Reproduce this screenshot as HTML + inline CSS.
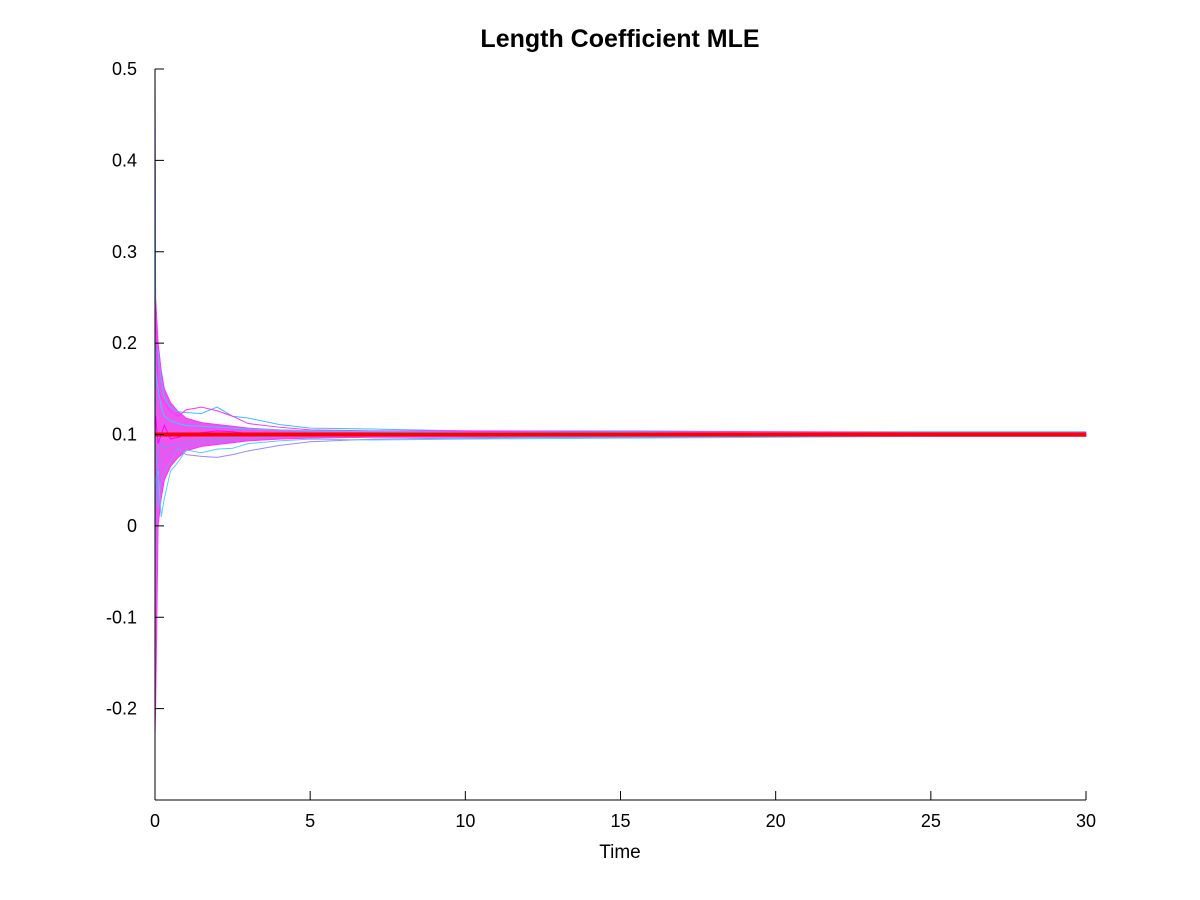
<!DOCTYPE html>
<html><head><meta charset="utf-8"><style>
body{margin:0;background:#fff;}
svg{display:block;font-family:"Liberation Sans",sans-serif;}
</style></head><body>
<svg id="chart" width="1200" height="900" viewBox="0 0 1200 900">
<rect width="1200" height="900" fill="#fff"/>
<text x="620" y="47" text-anchor="middle" font-size="25" font-weight="bold">Length Coefficient MLE</text>
<g id="plot"></g>
<g id="axes"></g>
<text x="620" y="858" text-anchor="middle" font-size="19">Time</text>
</svg>
<script>
const xTicks=[0,5,10,15,20,25,30];
const yTicks=[-0.2,-0.1,0,0.1,0.2,0.3,0.4,0.5];
const yTickLabels=["-0.2","-0.1","0","0.1","0.2","0.3","0.4","0.5"];
const times=[0,0.02,0.1,0.2,0.3,0.5,0.75,1,1.5,2,2.5,3,4,5,7,10,15,20,25,30];
const envUpper=[0.5,0.25,0.2,0.17,0.15,0.135,0.125,0.118,0.113,0.111,0.109,0.107,0.105,0.104,0.103,0.103,0.102,0.102,0.102,0.102];
const envLower=[-0.23,-0.2,0.0,0.03,0.05,0.065,0.075,0.082,0.087,0.089,0.091,0.093,0.095,0.096,0.097,0.097,0.098,0.098,0.098,0.098];
const series1=[0.5,0.2,0.19,0.16,0.14,0.13,0.125,0.124,0.123,0.13,0.12,0.118,0.111,0.107,0.106,0.104,0.104,0.103,0.103,0.103];
const series2=[0.3,0.1,0.02,0.05,0.06,0.07,0.085,0.078,0.076,0.075,0.078,0.082,0.088,0.092,0.095,0.096,0.097,0.098,0.099,0.099];
const series3=[-0.1,0.05,0.06,0.01,0.03,0.06,0.07,0.083,0.08,0.084,0.085,0.09,0.093,0.095,0.094,0.095,0.096,0.097,0.098,0.098];
const series4=[0.25,0.23,0.15,0.14,0.135,0.125,0.12,0.127,0.13,0.126,0.12,0.112,0.108,0.105,0.104,0.104,0.103,0.103,0.102,0.102];
const series5=[0.0,0.04,0.05,0.07,0.075,0.08,0.085,0.088,0.09,0.092,0.094,0.096,0.098,0.099,0.1,0.1,0.101,0.1,0.1,0.1];
const series6=[0.2,0.17,0.15,0.13,0.12,0.115,0.112,0.11,0.109,0.108,0.107,0.106,0.105,0.104,0.103,0.102,0.102,0.101,0.101,0.101];
const series7=[0.1,0.12,0.09,0.1,0.11,0.095,0.097,0.1,0.102,0.104,0.103,0.101,0.1,0.101,0.1,0.1,0.1,0.1,0.1,0.1];
const series8=[-0.05,0.03,0.08,0.09,0.085,0.088,0.09,0.092,0.094,0.095,0.097,0.099,0.1,0.1,0.099,0.098,0.097,0.098,0.098,0.098];
const seriesList=[series1,series2,series3,series4,series5,series6,series7,series8];
const seriesColors=["#44bbff","#9988ff","#55ccff","#ff33ff","#aa77ff","#33ccff","#ff00ff","#8888ff"];
const trueValue=0.1;

const X0=155,X1=1086,Y0=800,Y1=69,xMin=0,xMax=30,yMin=-0.3,yMax=0.5;
const xs=v=>X0+(v-xMin)/(xMax-xMin)*(X1-X0);
const ys=v=>Y0-(v-yMin)/(yMax-yMin)*(Y0-Y1);
const NS="http://www.w3.org/2000/svg";
const plot=document.getElementById('plot'),axes=document.getElementById('axes');
function mk(t,a,p){const e=document.createElementNS(NS,t);for(const k in a)e.setAttribute(k,a[k]);p.appendChild(e);return e;}

let d="M"+times.map((t,i)=>xs(t)+","+ys(envUpper[i])).join(" L");
for(let i=times.length-1;i>=0;i--)d+=" L"+xs(times[i])+","+ys(envLower[i]);
const env=mk('path',{d:d+"Z",fill:"#ee55ee",stroke:"#ff33ff","stroke-width":1},plot);



seriesList.forEach((s,j)=>{
  const p=mk('polyline',{points:times.map((t,i)=>xs(t)+","+ys(s[i])).join(" "),fill:"none",stroke:seriesColors[j],"stroke-width":1},plot);
  
  
});
const r=mk('line',{x1:xs(xMin),x2:xs(xMax),y1:ys(trueValue),y2:ys(trueValue),stroke:"#ff0000","stroke-width":4},plot);



const xa=mk('line',{x1:X0,x2:X1,y1:Y0,y2:Y0,stroke:"#000","stroke-width":1},axes);


const ya=mk('line',{x1:X0,x2:X0,y1:Y0,y2:Y1,stroke:"#000","stroke-width":1},axes);


xTicks.forEach(v=>{
  mk('line',{x1:xs(v),x2:xs(v),y1:Y0,y2:Y0-9,stroke:"#000"},axes);
  const t=mk('text',{x:xs(v),y:Y0+27,"text-anchor":"middle","font-size":18},axes);
  t.textContent=v;
  
  
});
yTicks.forEach((v,i)=>{
  mk('line',{x1:X0,x2:X0+9,y1:ys(v),y2:ys(v),stroke:"#000"},axes);
  const t=mk('text',{x:X0-18,y:ys(v)+6,"text-anchor":"end","font-size":18},axes);
  t.textContent=yTickLabels[i];
  
  
});
</script>
</body></html>
